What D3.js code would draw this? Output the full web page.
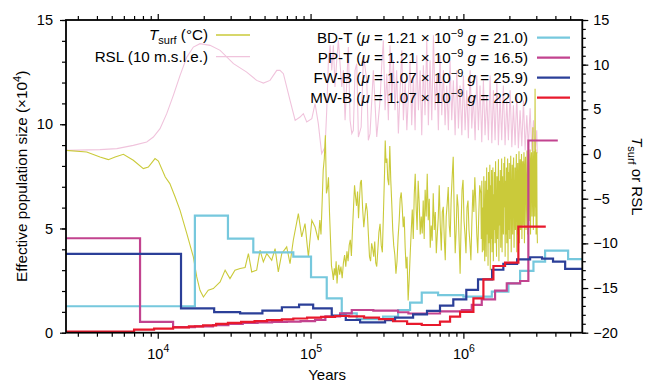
<!DOCTYPE html>
<html>
<head>
<meta charset="utf-8">
<script src="https://cdn.jsdelivr.net/npm/d3@7"></script>
<style>
  body { margin: 0; background: #fff; }
  svg { display: block; font-family: "Liberation Sans", Arial, Helvetica, sans-serif; }
</style>
</head>
<body>
<svg id="chart" width="650" height="382"></svg>
<script>
// ---- data -------------------------------------------------------------
// effective population size steps: [years (start of interval), Ne x 1e4]
const bdT = [[2000,1.27],[17500,5.62],[28800,4.51],[42200,3.85],[77100,3.65],[100700,2.66],[127600,1.65],
  [160000,0.93],[200600,0.65],[298000,0.77],[373800,1.09],[448000,1.44],[534000,1.92],[683000,1.80],
  [1.0e6,1.73],[1.535e6,1.97],[1.971e6,2.37],[2.35e6,2.97],[2.874e6,3.41],[3.425e6,3.94],[4.845e6,3.53]];
const bdTEnd = 7e6;

const ppT = [[2000,4.53],[7660,0.52],[12600,0.27],[17500,0.30],[23000,0.36],[29000,0.42],[36000,0.47],
  [45000,0.50],[56000,0.52],[70000,0.53],[86000,0.56],[107000,0.62],[125000,0.78],[156000,0.93],
  [186000,1.09],[257500,1.06],[373800,0.98],[436800,0.92],[703000,1.02],[977000,1.09],[1.135e6,1.33],
  [1.319e6,1.60],[1.612e6,2.02],[1.923e6,2.37],[2.35e6,2.48],[2.662e6,9.22]];
const ppTEnd = 4.148e6;

const fwB = [[2000,3.78],[14200,1.17],[23400,0.99],[34600,0.93],[48400,1.06],[64900,1.22],[84100,1.35],
  [104000,1.17],[137600,0.82],[170000,0.61],[210900,0.50],[307300,0.60],[357300,0.72],[468700,0.88],
  [578000,1.05],[703000,1.30],[859000,1.60],[1.045e6,2.05],[1.247e6,2.56],[1.542e6,3.02],[1.826e6,3.30],
  [2.246e6,3.52],[2.733e6,3.62],[3.27e6,3.55],[3.86e6,3.41],[4.634e6,3.06]];
const fwBEnd = 7e6;

const mwB = [[2000,0.05],[7000,0.15],[9460,0.20],[12600,0.26],[16000,0.30],[19800,0.35],[24100,0.42],
  [28800,0.47],[35100,0.52],[43000,0.56],[51900,0.60],[64900,0.64],[77100,0.68],[94900,0.72],
  [117100,0.76],[144700,0.80],[178500,0.78],[223900,0.72],[280700,0.65],[346600,0.55],[428300,0.42],
  [534000,0.37],[703000,0.53],[818000,0.77],[951400,1.00],[1.163e6,1.65],[1.352e6,2.56],[1.572e6,3.20],
  [1.874e6,3.36],[2.29e6,5.09]];
const mwBEnd = 3.461e6;

// surface temperature: [kyr, degC]
const tsurf = [[2.5,0.41],[3.43,0.22],[4.19,-0.34],[4.75,-0.63],[5.26,-0.34],[5.96,-0.03],[6.92,-0.70],
  [8.05,-1.63],[8.68,-1.45],[9.6,-0.51],[10.1,-0.78],[11.2,-2.57],[12.0,-3.31],[13.0,-4.81],[14.0,-6.30],
  [15.5,-8.90],[17.1,-11.52],[18.0,-13.76],[18.9,-15.25],[19.9,-16.0],[21.4,-15.25],[23.1,-15.06],
  [25.6,-14.32],[27.6,-13.0],[29.7,-13.94],[32.0,-13.0],[34.6,-12.82],[37.3,-12.7],[39.2,-11.14],
  [41.2,-13.2],[44.4,-13.0],[46.7,-10.77],[49.1,-12.08],[51.7,-11.14],[55.7,-11.89],[58.6,-10.58],
  [61.5,-13.2],[64.8,-11.14],[69.8,-10.4],[73.4,-12.26],[77.1,-9.65],[83.2,-6.67],[87.5,-9.28],[92.0,-7.79],
  [96.8,-11.52],[101.9,-7.42],[107,-8.17],[112.4,-9.65],
  [115,-7.4],[117,-9.0],[119,-5.5],[121,-1.8],[123,-0.5],[125,2.1],[127,-4.4],[129,-3.8],[131,-2.6],
  [133,-6.5],[135,-9.5],[137,-12.5],[139,-13.2],[141,-14.1],[143,-12.8],[145,-13.6],[147,-12.0],[149,-14.5],
  [151,-13.0],[153,-12.4],[155,-13.5],[158,-12.6],[161,-13.9],[164,-12.2],[167,-11.3],[170,-12.6],
  [173,-10.9],[176,-12.0],[179,-10.2],[182,-9.6],[185,-11.4],[188,-8.5],[191,-6.0],[194,-3.5],[197,-4.8],
  [200,-5.8],[203,-4.2],[206,-7.2],[209,-5.0],[212,-3.2],[215,-2.9],[219,-6.0],[223,-8.2],[227,-6.8],
  [231,-5.5],[235,-6.4],[239,-9.0],[243,-11.5],[247,-12.0],[251,-10.0],[255,-10.6],[259,-11.5],[263,-9.8],
  [267,-12.2],[271,-12.6],[275,-11.0],[280,-8.8],[285,-7.8],[290,-10.2],[295,-11.0],[300,-6.5],[305,-2.0],
  [308,1.5],[312,-1.0],[316,-0.5],[320,-2.8],[325,-3.5],[330,0.9],[335,-3.0],[340,-5.6],[345,-8.5],
  [350,-10.2],[356,-11.3],[362,-13.4],[368,-12.0],[374,-9.3],[380,-7.5],[386,-5.0],[392,-4.3],[398,-6.0],
  [404,-8.2],[410,-7.0],[416,-10.5],[422,-12.8],[428,-11.5],[435,-16.4],[442,-14.0],[449,-11.1],[456,-8.5],
  [463,-6.2],[470,-9.5],[477,-4.5],[484,-2.2],[491,-6.0],[498,-8.5],[506,-3.0],[514,-5.5],[522,-9.0],
  [530,-7.0],[538,-8.9],[546,-5.2],[554,-9.5],[562,-4.0],[571,-7.0],[580,-2.2],[589,-7.4],[598,-5.0],
  [607,-10.5],[616,-8.0],[625,-9.7],[635,-4.4],[645,-8.5],[655,-6.5],[665,-11.1],[675,-9.0],[685,-7.1],
  [695,-3.5],[706,-8.0],[717,-10.8],[728,-6.5],[739,-5.9],[750,-9.5],[761,-11.9],[772,-7.0],[784,-5.5],
  [796,-3.7],[808,-8.0],[820,-9.3],[832,-5.0],[845,-2.5],[858,-0.3],[871,-6.5],[884,-11.1],[897,-8.5],
  [910,-4.5],[924,-5.9],[938,-9.8],[952,-13.4],[966,-8.0],[980,-4.0],[995,-2.9],[1010,-7.5],[1025,-9.0],
  [1040,-11.1],[1056,-6.0],[1072,-5.2],[1088,-8.5],[1104,-10.0],[1120,-11.9],[1137,-7.5],[1154,-4.0],
  [1171,-6.5],[1188,-2.6],[1206,-5.5],[1224,-9.0],[1242,-11.1],[1260,-7.0],[1279,-3.5],
  [1300,-4.4],[1310,-9.5],[1320,-3.0],[1330,-11.0],[1340,-6.0],[1350,-10.8],[1360,-2.5],[1370,-8.0],
  [1380,-12.0],[1390,-3.0],[1400,-7.5],[1410,-11.5],[1420,-1.5],[1430,-9.0],[1440,-4.0],[1450,-12.5],
  [1460,-2.0],[1470,-10.0],[1480,-6.5],[1490,-1.2],[1500,-13.0],[1510,-3.5],[1520,-9.5],[1530,-1.8],
  [1540,-11.0],[1550,-5.0],[1560,-1.5],[1570,-12.0],[1580,-4.5],[1590,-8.5],[1600,-2.0],[1612,-10.0],
  [1624,-0.8],[1636,-7.0],[1648,-11.5],[1660,-2.5],[1672,-9.5],[1684,-4.0],[1696,-0.6],[1708,-12.0],
  [1720,-3.0],[1732,-8.0],[1744,-1.8],[1756,-10.5],[1768,-5.5],[1780,-0.5],[1792,-11.0],[1804,-2.5],
  [1816,-7.5],[1828,-9.0],[1840,-1.0],[1852,-6.0],[1864,-0.3],[1876,-11.5],[1888,-3.0],[1900,-9.0],
  [1912,-1.5],[1924,-10.0],[1936,-4.5],[1948,-0.5],[1960,-12.0],[1972,-2.0],[1984,-8.5],[1996,-1.0],
  [2011,-9.5],[2026,-3.5],[2041,-0.2],[2056,-11.0],[2071,-5.0],[2086,-1.2],[2101,-9.0],[2116,-2.5],
  [2131,-0.4],[2146,-10.5],[2161,-6.0],[2176,-1.5],[2191,-8.5],[2206,-3.0],[2221,0.0],[2236,-11.0],
  [2251,-4.0],[2266,-1.0],[2281,-9.0],[2296,-6.5],[2311,0.3],[2326,-10.0],[2341,-2.5],[2356,-0.6],
  [2371,-8.5],[2386,-4.5],[2401,0.0],[2416,-9.5],[2431,-3.0],[2446,-0.8],[2461,-8.0],[2476,-5.5],
  [2491,0.2],[2510,-10.0],[2530,-1.5],[2550,-0.3],[2570,-8.5],[2590,-4.0],[2610,0.4],[2630,-9.0],
  [2650,-2.0],[2670,0.0],[2690,-7.5],[2710,-3.5],[2730,0.5],[2750,-9.0],[2770,-1.0],[2790,0.2],
  [2810,-7.0],[2830,-4.0],[2850,3.0],[2870,-8.5],[2890,-1.5],[2910,0.3],[2930,-7.0],[2945,7.3],
  [2960,-6.0],[2975,0.5],[2990,-9.0],[3005,-2.0],[3020,0.2],[3035,-8.0],[3050,-10.0]];

// relative sea level: [kyr, 10 m s.l.e.]
const rsl = [[2.5,0.41],[4.19,0.49],[5.40,0.60],[6.92,0.97],[8.47,1.34],[9.36,1.9],[10.35,2.84],[11.45,4.52],
  [12.65,6.57],[14.0,8.8],[15.5,10.85],[17.1,11.97],[18.9,12.35],[22.0,12.16],[25.6,11.6],[31.3,10.11],
  [38.2,9.17],[44.4,8.24],[49.1,7.94],[54.3,8.24],[60.1,9.36],[63.1,9.36],[66.4,8.99],[73.4,6.0],[79.3,3.77],
  [85.3,4.14],[89.7,4.52],[94.4,3.58],[101.9,3.96],[107,5.64],[112.4,3.4],[118.2,0.04],[124.5,0.78],
  [127.6,4.89],[130.9,10.48],[134.3,12.16],[137.6,9.36],[141,12.16],[144.5,7.5],[148.3,10.48],[152,12.72],
  [160,7.5],[164,9.36],[168.2,3.77],[176.7,11.97],[181.4,3.77],[186.2,2.28],[190.5,2.65],[195.5,9.36],
  [200.6,10.11],[205.6,1.9],[214.3,3.02],[221.8,11.04],[233.3,8.24],[238.8,1.53],[245,2.28],[257.5,9.36],
  [271,1.9],[285,6.0],[292.4,10.11],[299.5,12.72],[307.3,4.89],[315.3,8.99],[323,3.77],[331,12.16],
  [340,6.0],[348,10.48],[357,4.89],[366,9.36],[375.5,2.3],[385.5,7.13],[395.5,11.6],[405,3.77],[416,8.24],
  [426.6,2.65],[436.8,6.57],[448,10.48],[459,3.21],[471,8.8],[483,2.65],[495.5,11.04],[508,4.89],[521,9.36],
  [534,2.09],[547,9.92],[561,4.33],[576,12.72],[590,3.21],[605,10.48],[621,3.77],[637,13.28],[653,4.89],
  [670,8.8],[686,2.65],[703,11.04],[722,4.33],[740,9.36],[759,3.21],[778,7.68],[798,2.65],[818,10.48],
  [839,3.77],[860,8.24],[883,2.09],[906,9.36],[928,2.87],[951,7.68],[977,2.09],[1000,8.8],[1026,2.65],
  [1052,7.13],[1078,1.76],[1107,9.36],[1135,2.87],[1163,6.57],[1193,1.53],[1224,8.8],[1254,2.65],[1285,7.68],
  [1319,1.31],[1352,8.24],[1386,2.09],[1422,6.57],[1458,1.53],[1496,8.8],[1535,1.2],[1572,7.13],[1612,1.53],
  [1656,8.24],[1695,0.97],[1738,6.57],[1782,1.53],[1826,7.68],[1874,0.97],[1923,6.0],[1971,1.53],[2023,7.13],
  [2075,0.75],[2125,5.45],[2180,0.97],[2235,6.57],[2290,0.64],[2350,4.89],[2411,0.86],[2472,6.0],[2535,0.41],
  [2600,4.33],[2662,0.64],[2733,5.11],[2806,0.3],[2874,3.77],[2946,0.08],[3020,2.65],[3043,0.08]];

const leftTicks = [0, 5, 10, 15];
const rightTicks = [-20, -15, -10, -5, 0, 5, 10, 15];
const xMajor = [1e4, 1e5, 1e6];

// ---- layout -----------------------------------------------------------
const pL = 66, pR = 582.3, pT = 20, pB = 332.7;
const svg = d3.select("#chart");

const x = d3.scaleLog().domain([2510, 6.0e6]).range([pL, pR]);
const yN = d3.scaleLinear().domain([0, 15]).range([pB, pT]);
const yC = d3.scaleLinear().domain([-20, 15]).range([pB, pT]);

svg.append("clipPath").attr("id", "plotclip")
  .append("rect").attr("x", pL).attr("y", pT).attr("width", pR - pL).attr("height", pB - pT);

const plot = svg.append("g").attr("clip-path", "url(#plotclip)");

// climate curves (right axis)
const climLine = d3.line().x(d => x(d[0] * 1000)).y(d => yC(d[1]));
plot.append("path").datum(rsl).attr("d", climLine)
  .attr("fill", "none").attr("stroke", "#f0c3dc").attr("stroke-width", 1.1);
plot.append("path").datum(tsurf).attr("d", climLine)
  .attr("fill", "none").attr("stroke", "#caca3a").attr("stroke-width", 1.1);

// PSMC step curves (left axis)
const stepLine = d3.line().curve(d3.curveStepAfter).x(d => x(d[0])).y(d => yN(d[1]));
const steps = [
  { data: bdT, end: bdTEnd, color: "#76c8dd" },
  { data: ppT, end: ppTEnd, color: "#c2438f" },
  { data: fwB, end: fwBEnd, color: "#2b3f98" },
  { data: mwB, end: mwBEnd, color: "#e8192c" }
];
steps.forEach(s => {
  const pts = s.data.concat([[s.end, s.data[s.data.length - 1][1]]]);
  plot.append("path").datum(pts).attr("d", stepLine)
    .attr("fill", "none").attr("stroke", s.color).attr("stroke-width", 2.2);
});

// ---- axes -------------------------------------------------------------
const minorX = [];
for (let e = 3; e <= 6; e++) for (let k = 2; k <= 9; k++) {
  const v = k * Math.pow(10, e);
  if (v > 2510 && v < 6.0e6) minorX.push(v);
}
const minorL = d3.range(0, 16);
const minorR = d3.range(-20, 16);

function styleAxis(g) {
  g.select(".domain").remove();
  g.selectAll("line").attr("stroke", "#000").attr("stroke-width", 1.2);
  g.selectAll("text").attr("font-size", 14.5).attr("fill", "#000")
    .attr("font-family", '"Liberation Sans", Arial, Helvetica, sans-serif');
}

// bottom
svg.append("g").attr("transform", `translate(0,${pB})`)
  .call(d3.axisBottom(x).tickValues(minorX).tickSize(4).tickFormat("")).call(styleAxis);
const bAx = svg.append("g").attr("transform", `translate(0,${pB})`)
  .call(d3.axisBottom(x).tickValues(xMajor).tickSize(6).tickFormat("")).call(styleAxis);
bAx.selectAll(".tick").each(function (d) {
  const t = d3.select(this).append("text").attr("y", 26.5).attr("text-anchor", "middle")
    .attr("font-size", 14.5).attr("fill", "#000");
  t.append("tspan").text("10");
  t.append("tspan").attr("dy", -7.5).attr("font-size", 10.5).text(Math.round(Math.log10(d)));
});
// top
svg.append("g").attr("transform", `translate(0,${pT})`)
  .call(d3.axisTop(x).tickValues(minorX).tickSize(4).tickFormat("")).call(styleAxis);
svg.append("g").attr("transform", `translate(0,${pT})`)
  .call(d3.axisTop(x).tickValues(xMajor).tickSize(6).tickFormat("")).call(styleAxis);
// left
svg.append("g").attr("transform", `translate(${pL},0)`)
  .call(d3.axisLeft(yN).tickValues(minorL).tickSize(4).tickFormat("")).call(styleAxis);
svg.append("g").attr("transform", `translate(${pL},0)`)
  .call(d3.axisLeft(yN).tickValues(leftTicks).tickSize(6).tickPadding(7).tickFormat(d3.format("d"))).call(styleAxis);
// right
svg.append("g").attr("transform", `translate(${pR},0)`)
  .call(d3.axisRight(yC).tickValues(minorR).tickSize(3.5).tickFormat("")).call(styleAxis);
svg.append("g").attr("transform", `translate(${pR},0)`)
  .call(d3.axisRight(yC).tickValues(rightTicks).tickSize(6).tickPadding(5).tickFormat(d3.format("d"))).call(styleAxis);

// frame
svg.append("rect").attr("x", pL).attr("y", pT).attr("width", pR - pL).attr("height", pB - pT)
  .attr("fill", "none").attr("stroke", "#000").attr("stroke-width", 1.8);

// axis titles
const yt = svg.append("text").attr("transform", `translate(26.5,${(pT + pB) / 2}) rotate(-90)`)
  .attr("text-anchor", "middle").attr("font-size", 15.3);
yt.append("tspan").text("Effective population size (\u00d710");
yt.append("tspan").attr("dy", -6).attr("font-size", 11).text("4");
yt.append("tspan").attr("dy", 6).text(")");

svg.append("text").attr("x", (pL + pR) / 2 + 3).attr("y", 380).attr("text-anchor", "middle")
  .attr("font-size", 15).text("Years");

const rt = svg.append("text").attr("transform", `translate(632,${(pT + pB) / 2}) rotate(90)`)
  .attr("text-anchor", "middle").attr("font-size", 15);
rt.append("tspan").attr("font-style", "italic").text("T");
rt.append("tspan").attr("dy", 4).attr("font-size", 11).text("surf");
rt.append("tspan").attr("dy", -4).text(" or RSL");

// ---- legends ----------------------------------------------------------
const lg = svg.append("g").attr("font-size", 15.2);
// left block
const l1 = lg.append("text").attr("x", 208).attr("y", 40).attr("text-anchor", "end");
l1.append("tspan").attr("font-style", "italic").text("T");
l1.append("tspan").attr("dy", 4).attr("font-size", 11).text("surf");
l1.append("tspan").attr("dy", -4).text(" (\u00b0C)");
lg.append("line").attr("x1", 216).attr("x2", 250).attr("y1", 35).attr("y2", 35)
  .attr("stroke", "#caca3a").attr("stroke-width", 1.3);
lg.append("text").attr("x", 208).attr("y", 61.5).attr("text-anchor", "end").text("RSL (10 m.s.l.e.)");
lg.append("line").attr("x1", 216).attr("x2", 250).attr("y1", 56.7).attr("y2", 56.7)
  .attr("stroke", "#f0c3dc").attr("stroke-width", 1.3);

// right block
const legendNames = ["BD-T", "PP-T", "FW-B", "MW-B"];
const legendMu = ["1.21", "1.21", "1.07", "1.07"];
const legendG = ["21.0", "16.5", "25.9", "22.0"];
legendNames.forEach((nm, i) => {
  const yy = 37.7 + i * 20;
  const t = lg.append("text").attr("x", 528).attr("y", yy + 5.5).attr("text-anchor", "end");
  t.append("tspan").text(nm + " (");
  t.append("tspan").attr("font-style", "italic").text("\u03bc");
  t.append("tspan").text(" = " + legendMu[i] + " \u00d7 10");
  t.append("tspan").attr("dy", -6.5).attr("font-size", 11).text("\u22129");
  t.append("tspan").attr("dy", 6.5).text(" ");
  t.append("tspan").attr("font-style", "italic").text("g");
  t.append("tspan").text(" = " + legendG[i] + ")");
  lg.append("line").attr("x1", 537).attr("x2", 570).attr("y1", yy).attr("y2", yy)
    .attr("stroke", steps[i].color).attr("stroke-width", 2.2);
});
</script>
</body>
</html>
